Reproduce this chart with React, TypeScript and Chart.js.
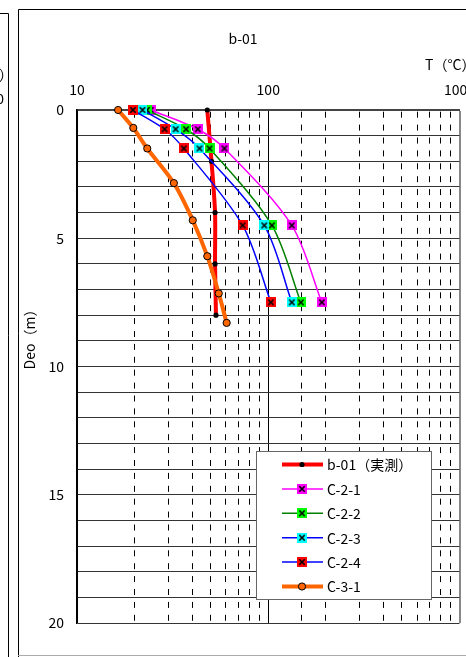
import React, { useEffect, useRef } from "react";
import { Chart, registerables } from "chart.js";

Chart.register(...registerables);

const FONT = '"Noto Sans CJK JP", "DejaVu Sans", sans-serif';

const chartTitle = "b-01";
const xAxisTitle = "T（°C）";
const yAxisTitle = "Deo（m）";
const xTickLabels = [10, 100, 1000];
const yTickLabels = [0, 5, 10, 15, 20];

const seriesLabels = ["b-01（実測）", "C-2-1", "C-2-2", "C-2-3", "C-2-4", "C-3-1"];

const depthB01 = [0, 2, 4, 6, 8];
const tempB01 = [48, 50.5, 52.7, 52.7, 53.3];

const depthC2 = [0, 0.75, 1.5, 4.5, 7.5];
const tempC21 = [24.3, 42.8, 59.0, 132.8, 190.6];
const tempC22 = [23.2, 37.2, 49.3, 104.5, 148];
const tempC23 = [22.0, 32.8, 43.7, 95.3, 132.8];
const tempC24 = [19.6, 28.7, 36.2, 73.5, 103.2];

const depthC31 = [0, 0.7, 1.5, 2.85, 4.3, 5.7, 7.15, 8.3];
const tempC31 = [16.4, 19.7, 23.3, 32.1, 40.3, 48.0, 55.1, 60.6];

function pts(xs: number[], ys: number[]) {
  return xs.map((x, i) => ({ x, y: ys[i] }));
}

function crossMarker(fill: string) {
  const c = document.createElement("canvas");
  c.width = 10;
  c.height = 10;
  const g = c.getContext("2d")!;
  g.fillStyle = fill;
  g.fillRect(0, 0, 10, 10);
  g.strokeStyle = "#000";
  g.lineWidth = 1.6;
  g.beginPath();
  g.moveTo(2.3, 2.3);
  g.lineTo(7.7, 7.7);
  g.moveTo(7.7, 2.3);
  g.lineTo(2.3, 7.7);
  g.stroke();
  return c;
}

const isMajor = (v: any) => v !== undefined && xTickLabels.includes(v);

export default function App() {
  const ref = useRef<HTMLCanvasElement>(null);

  useEffect(() => {
    if (!ref.current) return;
    const mk = (fill: string) => crossMarker(fill);

    const datasets: any[] = [
      {
        label: seriesLabels[0],
        data: pts(tempB01, depthB01),
        borderColor: "#ff0000",
        borderWidth: 4,
        pointRadius: 2.6,
        pointBackgroundColor: "#000",
        pointBorderColor: "#000",
        pointBorderWidth: 0,
        order: 6,
      },
      {
        label: seriesLabels[1],
        data: pts(tempC21, depthC2),
        borderColor: "#ff00ff",
        borderWidth: 1.5,
        pointStyle: mk("#ff00ff"),
        order: 4,
      },
      {
        label: seriesLabels[2],
        data: pts(tempC22, depthC2),
        borderColor: "#008000",
        borderWidth: 1.5,
        pointStyle: mk("#00ff00"),
        order: 3,
      },
      {
        label: seriesLabels[3],
        data: pts(tempC23, depthC2),
        borderColor: "#0000ff",
        borderWidth: 1.5,
        pointStyle: mk("#00ffff"),
        order: 2,
      },
      {
        label: seriesLabels[4],
        data: pts(tempC24, depthC2),
        borderColor: "#0000ff",
        borderWidth: 1.5,
        pointStyle: mk("#ff0000"),
        order: 1,
      },
      {
        label: seriesLabels[5],
        data: pts(tempC31, depthC31),
        borderColor: "#ff6600",
        borderWidth: 4,
        pointRadius: 3.6,
        pointBackgroundColor: "#ff6600",
        pointBorderColor: "#000",
        pointBorderWidth: 1,
        order: 5,
      },
    ].map((d) => ({ showLine: true, tension: 0.3, clip: false, pointRadius: 5, ...d }));

    const decor = {
      id: "decor",
      afterDraw(chart: any) {
        const ctx = chart.ctx as CanvasRenderingContext2D;
        ctx.save();
        // frames
        ctx.strokeStyle = "#000";
        ctx.lineWidth = 1;
        ctx.beginPath();
        ctx.moveTo(18.5, 657);
        ctx.lineTo(18.5, 9.5);
        ctx.lineTo(466, 9.5);
        ctx.moveTo(8.5, 657);
        ctx.lineTo(8.5, 13.5);
        ctx.lineTo(0, 13.5);
        ctx.stroke();
        ctx.strokeStyle = "#aaa";
        ctx.beginPath();
        ctx.moveTo(18, 655.5);
        ctx.lineTo(466, 655.5);
        ctx.stroke();

        // texts
        ctx.fillStyle = "#000";
        ctx.font = `14px ${FONT}`;
        ctx.textBaseline = "middle";
        ctx.textAlign = "center";
        ctx.fillText(chartTitle, 243, 38.5);
        ctx.textAlign = "left";
        ctx.fillText(xAxisTitle, 425, 65);
        ctx.textAlign = "right";
        ctx.fillText(xAxisTitle, 13, 75);
        ctx.fillText(String(xTickLabels[2]), 4, 99);
        ctx.save();
        ctx.translate(30, 336);
        ctx.rotate(-Math.PI / 2);
        ctx.textAlign = "center";
        ctx.fillText(yAxisTitle, 0, 0);
        ctx.restore();

        // legend
        const bx = 256.5, by = 451.5, bw = 175, bh = 148;
        ctx.fillStyle = "#fff";
        ctx.fillRect(bx, by, bw, bh);
        ctx.strokeStyle = "#666";
        ctx.lineWidth = 1;
        ctx.strokeRect(bx, by, bw, bh);
        chart.data.datasets.forEach((ds: any, i: number) => {
          const y = 464.5 + i * 24.4;
          ctx.strokeStyle = ds.borderColor;
          ctx.lineWidth = ds.borderWidth;
          ctx.beginPath();
          ctx.moveTo(282, y);
          ctx.lineTo(323, y);
          ctx.stroke();
          const mx = 302;
          if (ds.pointStyle instanceof HTMLCanvasElement) {
            ctx.drawImage(ds.pointStyle, mx - 5, y - 5);
          } else {
            ctx.beginPath();
            ctx.arc(mx, y, ds.pointRadius, 0, Math.PI * 2);
            ctx.fillStyle = ds.pointBackgroundColor;
            ctx.fill();
            if (ds.pointBorderWidth) {
              ctx.lineWidth = ds.pointBorderWidth;
              ctx.strokeStyle = ds.pointBorderColor;
              ctx.stroke();
            }
          }
          ctx.fillStyle = "#000";
          ctx.font = `14px ${FONT}`;
          ctx.textAlign = "left";
          ctx.textBaseline = "middle";
          ctx.fillText(ds.label, 327, y + 0.5);
        });
        ctx.restore();
      },
    };

    const chart = new Chart(ref.current, {
      type: "scatter",
      data: { datasets },
      plugins: [decor],
      options: {
        animation: false,
        responsive: false,
        events: [],
        layout: { padding: { left: 0, right: 5.5, top: 0, bottom: 34 } },
        plugins: {
          legend: { display: false },
          tooltip: { enabled: false },
          title: { display: false },
        },
        scales: {
          x: {
            type: "logarithmic",
            position: "top",
            min: 10,
            max: 1000,
            ticks: {
              autoSkip: false,
              maxRotation: 0,
              padding: 12,
              color: "#000",
              font: { family: FONT, size: 14 },
              callback: (v: any) => (xTickLabels.includes(Number(v)) ? String(v) : ""),
            },
            grid: {
              drawTicks: false,
              color: (c: any) =>
                c.tick && c.tick.value === 1000 ? "#888" : isMajor(c.tick?.value) ? "#000" : "rgba(0,0,0,0)",
              lineWidth: (c: any) => (c.tick && c.tick.value === 1000 ? 2 : 1),
            },
            border: { display: true, color: "#444", width: 2 },
            afterFit: (s: any) => {
              s.height = 110;
              s.paddingLeft = 0;
              s.paddingRight = 0;
            },
          },
          x2: {
            type: "logarithmic",
            position: "top",
            min: 10,
            max: 1000,
            ticks: { display: false, autoSkip: false },
            grid: {
              drawTicks: false,
              color: (c: any) => (isMajor(c.tick?.value) ? "rgba(0,0,0,0)" : "#000"),
              lineWidth: 1,
            },
            border: { display: false, dash: [6, 6.9], dashOffset: -1.7 },
            afterFit: (s: any) => {
              s.height = 0;
              s.paddingLeft = 0;
              s.paddingRight = 0;
            },
          },
          y: {
            type: "linear",
            reverse: true,
            min: 0,
            max: 20,
            ticks: {
              stepSize: 1,
              autoSkip: false,
              padding: 13,
              color: "#000",
              font: { family: FONT, size: 14 },
              callback: (v: any) => (yTickLabels.includes(Number(v)) ? String(v) : ""),
            },
            grid: { drawTicks: false, color: "#333", lineWidth: 1 },
            border: { display: true, color: "#000", width: 1.5 },
            afterFit: (s: any) => {
              s.width = 77;
              s.paddingTop = 0;
              s.paddingBottom = 0;
            },
          },
        },
      } as any,
    });
    return () => chart.destroy();
  }, []);

  return (
    <div style={{ position: "fixed", left: 0, top: 0, width: 466, height: 657, background: "#fff" }}>
      <canvas ref={ref} width={466} height={657} />
    </div>
  );
}
